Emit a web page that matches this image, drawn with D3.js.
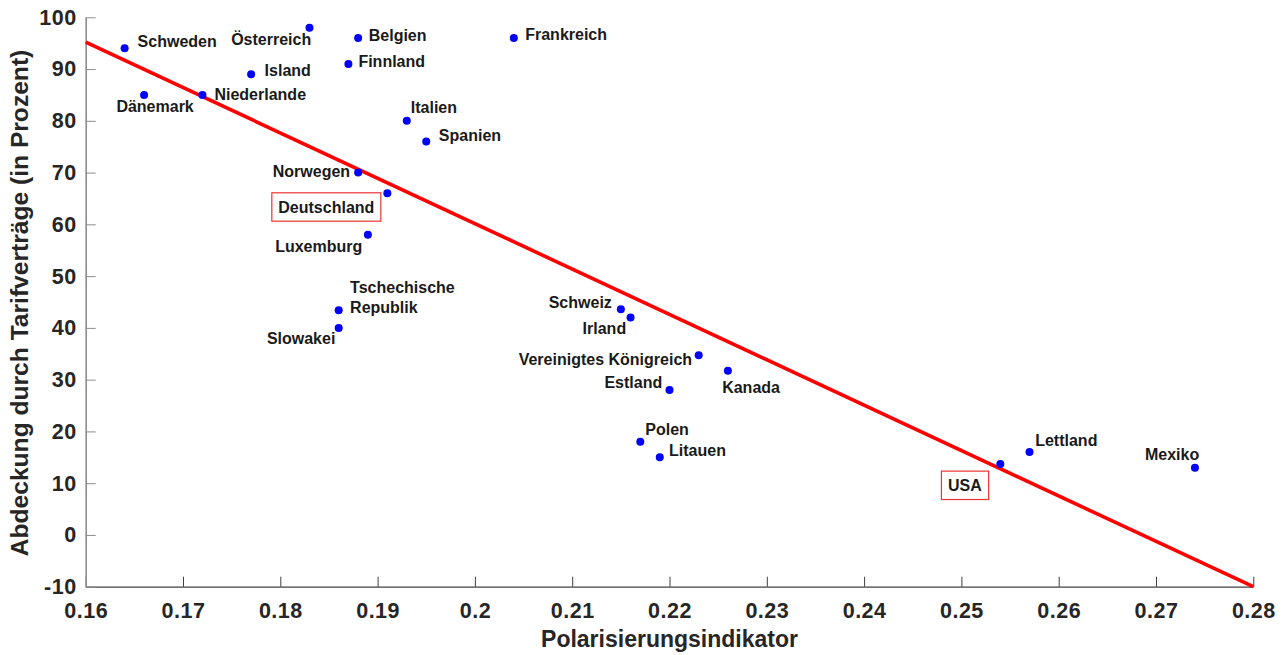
<!DOCTYPE html>
<html>
<head>
<meta charset="utf-8">
<script src="https://cdn.jsdelivr.net/npm/d3@7"></script>
<style>
  body { margin: 0; background: #fff; }
  svg { font-family: "Liberation Sans", Arial, sans-serif; }
</style>
</head>
<body>
<div id="chart"></div>
<script>
const countries = ["Schweden", "Dänemark", "Niederlande", "Island", "Österreich", "Belgien",
  "Finnland", "Frankreich", "Italien", "Spanien", "Norwegen", "Deutschland", "Luxemburg",
  "Tschechische Republik", "Slowakei", "Schweiz", "Irland", "Vereinigtes Königreich",
  "Kanada", "Estland", "Polen", "Litauen", "USA", "Lettland", "Mexiko"];
const polarisation = [0.164, 0.166, 0.172, 0.177, 0.183, 0.188,
  0.187, 0.204, 0.193, 0.195, 0.188, 0.191, 0.189,
  0.186, 0.186, 0.215, 0.216, 0.223,
  0.226, 0.220, 0.217, 0.219, 0.254, 0.257, 0.274];
const coverage = [94, 85, 85, 89, 98, 96,
  91, 96, 80, 76, 70, 66, 58,
  43.4, 40, 43.6, 42, 34.7,
  31.7, 28, 18, 15, 13.7, 16, 13];
const highlighted = ["Deutschland", "USA"];
// regression line end points
const fitX = [0.16, 0.28];
const fitY = [95.2, -10];
const xTicks = [0.16, 0.17, 0.18, 0.19, 0.2, 0.21, 0.22, 0.23, 0.24, 0.25, 0.26, 0.27, 0.28];
const yTicks = [-10, 0, 10, 20, 30, 40, 50, 60, 70, 80, 90, 100];

// label placement relative to the dot: [dx, dy(center), anchor]
const labelPlacement = {
  "Schweden": [13, -6.6, "start"],
  "Dänemark": [11, 11, "middle"],
  "Niederlande": [12, -0.5, "start"],
  "Island": [13.5, -3.7, "start"],
  "Österreich": [1.7, 11.7, "end"],
  "Belgien": [10.6, -2.4, "start"],
  "Finnland": [10, -2.3, "start"],
  "Frankreich": [11.4, -3.4, "start"],
  "Italien": [4, -13.7, "start"],
  "Spanien": [12.6, -6.4, "start"],
  "Norwegen": [-8, -1, "end"],
  "Deutschland": [-61, 13.7, "middle"],
  "Luxemburg": [-5.6, 11.7, "end"],
  "Tschechische Republik": [11.4, -22.6, "start"],
  "Slowakei": [-3.3, 11, "end"],
  "Schweiz": [-9, -7, "end"],
  "Irland": [-4.4, 10.6, "end"],
  "Vereinigtes Königreich": [-6.6, 4, "end"],
  "Kanada": [-5.7, 16.4, "start"],
  "Estland": [-7.3, -7.3, "end"],
  "Polen": [5, -12, "start"],
  "Litauen": [9.3, -6.7, "start"],
  "USA": [-35.5, 21.3, "middle"],
  "Lettland": [5.7, -11.3, "start"],
  "Mexiko": [4.3, -13.7, "end"]
};

const W = 1285, H = 655;
const margin = {top: 17.3, right: 31.7, bottom: 68.3, left: 85.7};
const width = W - margin.left - margin.right;
const height = H - margin.top - margin.bottom;

const svg = d3.select("#chart").append("svg")
  .attr("width", W).attr("height", H);
const g = svg.append("g")
  .attr("transform", `translate(${margin.left},${margin.top})`);

const x = d3.scaleLinear().domain([0.16, 0.28]).range([0, width]);
const y = d3.scaleLinear().domain([-10, 100]).range([height, 0]);

const xAxis = g.append("g")
  .attr("transform", `translate(0,${height})`)
  .call(d3.axisBottom(x).tickValues(xTicks).tickFormat(d => String(+d.toFixed(2)))
    .tickSizeInner(-10).tickSizeOuter(0).tickPadding(16));
xAxis.select(".domain").attr("stroke", "#404040").attr("stroke-width", 1.2);
xAxis.selectAll(".tick line").attr("stroke", "#404040");

const yAxis = g.append("g")
  .call(d3.axisLeft(y).tickValues(yTicks).tickFormat(d => String(d))
    .tickSizeInner(-10).tickSizeOuter(0).tickPadding(9));
yAxis.select(".domain").attr("stroke", "#8c8c8c").attr("stroke-width", 1.6);
yAxis.selectAll(".tick line").attr("stroke", "#8c8c8c");

g.selectAll(".tick text")
  .attr("fill", "#262626")
  .style("font-size", "21.5px")
  .style("font-weight", "bold")
  .style("letter-spacing", "0.5px");

// axis titles
svg.append("text")
  .attr("x", margin.left + width / 2)
  .attr("y", 647)
  .attr("text-anchor", "middle")
  .attr("fill", "#262626")
  .style("font-size", "23px").style("font-weight", "bold")
  .text("Polarisierungsindikator");

svg.append("text")
  .attr("transform", `translate(28,${margin.top + height / 2 + 1}) rotate(-90)`)
  .attr("text-anchor", "middle")
  .attr("fill", "#262626")
  .style("font-size", "24.6px").style("font-weight", "bold")
  .text("Abdeckung durch Tarifverträge (in Prozent)");

// regression line
const fit = fitX.map((v, i) => ({x: v, y: fitY[i]}));
g.append("path")
  .datum(fit)
  .attr("fill", "none")
  .attr("stroke", "#ff0000")
  .attr("stroke-width", 3.6)
  .attr("d", d3.line().x(d => x(d.x)).y(d => y(d.y)));

const points = countries.map((c, i) => ({name: c, x: polarisation[i], y: coverage[i]}));

g.selectAll("circle.dot")
  .data(points)
  .enter().append("circle")
  .attr("class", "dot")
  .attr("cx", d => x(d.x))
  .attr("cy", d => y(d.y))
  .attr("r", 4)
  .attr("fill", "#0000ff");

const labels = g.append("g")
  .style("font-size", "16px").style("font-weight", "bold")
  .attr("fill", "#1a1a1a");

points.forEach(d => {
  const [dx, dy, anchor] = labelPlacement[d.name];
  const lx = x(d.x) + dx, ly = y(d.y) + dy;
  if (highlighted.includes(d.name)) {
    const grp = labels.append("g");
    const rect = grp.append("rect");
    const t = grp.append("text")
      .attr("x", lx).attr("y", ly).attr("dy", "0.35em")
      .attr("text-anchor", anchor).text(d.name);
    const bb = t.node().getBBox();
    rect.attr("x", bb.x - 6.5).attr("y", ly - 14.2)
      .attr("width", bb.width + 13).attr("height", 28.4)
      .attr("fill", "#fff").attr("stroke", "#ee3333").attr("stroke-width", 1.2);
  } else if (d.name === "Tschechische Republik") {
    const t = labels.append("text").attr("text-anchor", anchor);
    t.append("tspan").attr("x", lx).attr("y", ly).attr("dy", "0.35em").text("Tschechische");
    t.append("tspan").attr("x", lx).attr("y", ly + 19.6).attr("dy", "0.35em").text("Republik");
  } else {
    labels.append("text")
      .attr("x", lx).attr("y", ly).attr("dy", "0.35em")
      .attr("text-anchor", anchor).text(d.name);
  }
});
</script>
</body>
</html>
